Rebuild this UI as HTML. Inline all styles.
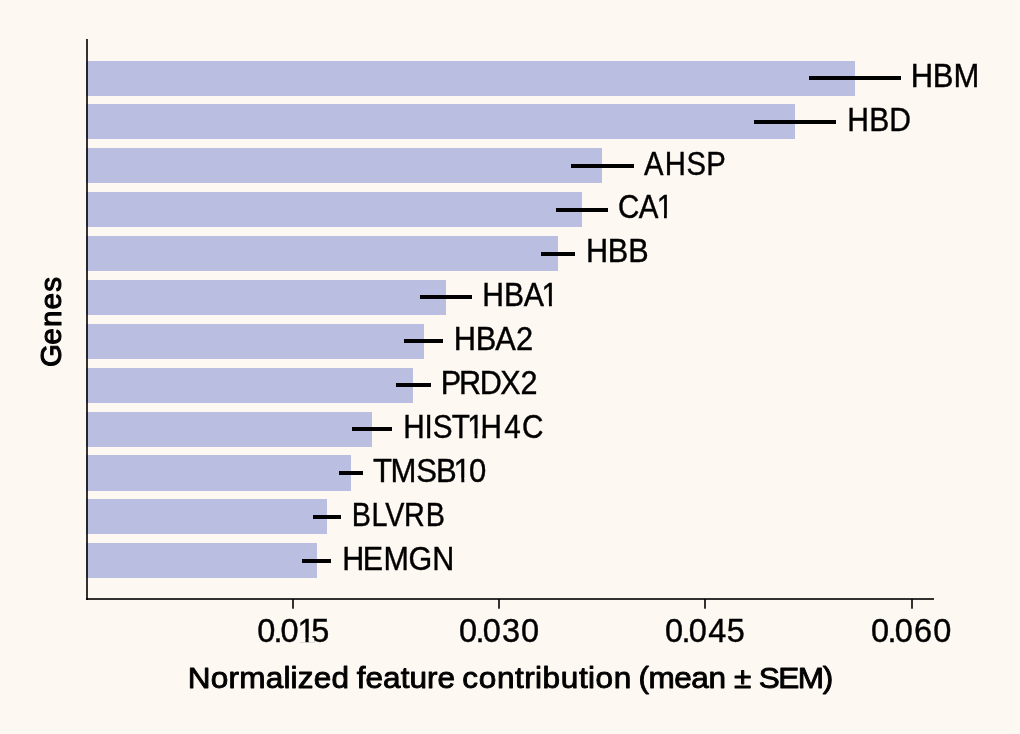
<!DOCTYPE html>
<html><head><meta charset="utf-8"><title>Normalized feature contribution</title>
<style>
html,body{margin:0;padding:0;background:#FDF8F2;}
svg{display:block;will-change:transform;}
text{font-family:"Liberation Sans",Arial,sans-serif;fill:#000;font-kerning:none;}
</style></head><body>
<svg width="1020" height="734" viewBox="0 0 1020 734">
<rect x="0" y="0" width="1020" height="734" fill="#FDF8F2"/>
<rect x="86" y="61" width="769" height="35" fill="#BABEE0"/>
<rect x="809" y="76" width="92" height="4" fill="#000"/>
<rect x="86" y="104" width="709" height="35" fill="#BABEE0"/>
<rect x="754" y="120" width="82" height="4" fill="#000"/>
<rect x="86" y="148" width="516" height="35" fill="#BABEE0"/>
<rect x="571" y="164" width="63" height="4" fill="#000"/>
<rect x="86" y="192" width="496" height="35" fill="#BABEE0"/>
<rect x="556" y="208" width="52" height="4" fill="#000"/>
<rect x="86" y="236" width="472" height="35" fill="#BABEE0"/>
<rect x="541" y="252" width="34" height="4" fill="#000"/>
<rect x="86" y="280" width="360" height="35" fill="#BABEE0"/>
<rect x="420" y="295" width="52" height="4" fill="#000"/>
<rect x="86" y="324" width="338" height="35" fill="#BABEE0"/>
<rect x="404" y="339" width="39" height="4" fill="#000"/>
<rect x="86" y="368" width="327" height="35" fill="#BABEE0"/>
<rect x="396" y="383" width="35" height="4" fill="#000"/>
<rect x="86" y="412" width="286" height="35" fill="#BABEE0"/>
<rect x="352" y="427" width="40" height="4" fill="#000"/>
<rect x="86" y="455" width="265" height="36" fill="#BABEE0"/>
<rect x="339" y="471" width="24" height="4" fill="#000"/>
<rect x="86" y="499" width="241" height="35" fill="#BABEE0"/>
<rect x="313" y="515" width="28" height="4" fill="#000"/>
<rect x="86" y="543" width="231" height="35" fill="#BABEE0"/>
<rect x="302" y="559" width="29" height="4" fill="#000"/>
<rect x="86" y="39" width="2" height="561" fill="rgba(0,0,0,0.8)"/>
<rect x="86" y="598" width="848" height="2" fill="rgba(0,0,0,0.8)"/>
<rect x="292" y="599" width="2" height="9.7" fill="rgba(0,0,0,0.8)"/>
<rect x="498" y="599" width="2" height="9.7" fill="rgba(0,0,0,0.8)"/>
<rect x="704" y="599" width="2" height="9.7" fill="rgba(0,0,0,0.8)"/>
<rect x="911" y="599" width="2" height="9.7" fill="rgba(0,0,0,0.8)"/>
<text transform="matrix(0.9539 0 0 1 0 0)" x="954.76 977.94 999.62" y="86.80" font-size="32.5" stroke="#000" stroke-width="0.4">HBM</text>
<text transform="matrix(0.9250 0 0 1 0 0)" x="915.88 939.72 961.33" y="130.70" font-size="32.5" stroke="#000" stroke-width="0.4">HBD</text>
<text transform="matrix(0.9002 0 0 1 0 0)" x="715.54 738.41 762.65 784.44" y="174.60" font-size="32.5" stroke="#000" stroke-width="0.4">AHSP</text>
<clipPath id="c3"><path clip-rule="evenodd" d="M0 0H1020V734H0ZM658.50 214.67h5.49v4.83h-5.49ZM666.80 214.67h6.05v4.83h-6.05Z"/></clipPath><g clip-path="url(#c3)"><text transform="matrix(0.9085 0 0 1 0 0)" x="680.21 702.99 722.76" y="218.50" font-size="32.5" stroke="#000" stroke-width="0.4">CA1</text></g>
<text transform="matrix(0.9423 0 0 1 0 0)" x="621.95 644.87 666.78" y="262.40" font-size="32.5" stroke="#000" stroke-width="0.4">HBB</text>
<clipPath id="c5"><path clip-rule="evenodd" d="M0 0H1020V734H0ZM543.90 302.47h5.06v4.83h-5.06ZM551.81 302.47h6.13v4.83h-6.13Z"/></clipPath><g clip-path="url(#c5)"><text transform="matrix(0.9250 0 0 1 0 0)" x="521.39 544.90 566.14 585.40" y="306.30" font-size="32.5" stroke="#000" stroke-width="0.4">HBA1</text></g>
<text transform="matrix(0.9474 0 0 1 0 0)" x="479.06 502.07 522.81 544.62" y="350.20" font-size="32.5" stroke="#000" stroke-width="0.4">HBA2</text>
<text transform="matrix(0.9403 0 0 1 0 0)" x="468.85 488.06 510.15 532.05 553.55" y="394.10" font-size="32.5" stroke="#000" stroke-width="0.4">PRDX2</text>
<clipPath id="c8"><path clip-rule="evenodd" d="M0 0H1020V734H0ZM468.29 434.17h6.31v4.83h-6.31ZM477.42 434.17h4.68v4.83h-4.68Z"/></clipPath><g clip-path="url(#c8)"><text transform="matrix(0.9142 0 0 1 0 0)" x="441.21 464.36 473.47 494.12 511.07 525.71 551.49 570.96" y="438.00" font-size="32.5" stroke="#000" stroke-width="0.4">HIST1H4C</text></g>
<clipPath id="c9"><path clip-rule="evenodd" d="M0 0H1020V734H0ZM454.79 478.07h6.55v4.83h-6.55ZM464.29 478.07h6.31v4.83h-6.31Z"/></clipPath><g clip-path="url(#c9)"><text transform="matrix(0.9567 0 0 1 0 0)" x="389.83 408.21 435.01 455.69 474.14 490.27" y="481.90" font-size="32.5" stroke="#000" stroke-width="0.4">TMSB10</text></g>
<text transform="matrix(0.8845 0 0 1 0 0)" x="397.66 419.89 435.50 456.75 481.32" y="525.80" font-size="32.5" stroke="#000" stroke-width="0.4">BLVRB</text>
<text transform="matrix(0.9383 0 0 1 0 0)" x="364.67 386.63 408.60 435.47 460.64" y="569.70" font-size="32.5" stroke="#000" stroke-width="0.4">HEMGN</text>
<clipPath id="t0"><path clip-rule="evenodd" d="M0 0H1020V734H0ZM298.69 637.77h6.80v4.83h-6.80ZM308.56 637.77h5.64v4.83h-5.64Z"/></clipPath><g clip-path="url(#t0)"><text x="257.21 273.39 280.56 297.41 311.34" y="641.60" font-size="32.5" stroke="#000" stroke-width="0.4">0.015</text></g>
<text x="459.06 475.54 482.76 502.01 521.06" y="641.60" font-size="32.5" stroke="#000" stroke-width="0.4">0.030</text>
<text x="665.06 681.54 688.76 708.22 726.69" y="641.60" font-size="32.5" stroke="#000" stroke-width="0.4">0.045</text>
<text x="871.06 887.54 894.76 914.00 933.26" y="641.60" font-size="32.5" stroke="#000" stroke-width="0.4">0.060</text>
<text transform="matrix(1.0445 0 0 1 0 0)" x="179.69 201.75 218.72 229.00 254.44 271.38 278.17 285.02 300.33 317.34 334.13 341.53 349.95 366.79 383.62 392.04 408.87 418.96 435.76 442.51 458.26 475.76 493.08 501.88 512.25 519.46 536.94 554.26 562.96 570.15 587.65 604.44 611.21 620.86 645.50 661.86 678.26 695.06 702.78 719.36 726.48 745.17 763.78 787.76" y="688.40" font-size="30.2" stroke="#000" stroke-width="0.9" stroke-linejoin="round">Normalized feature contribution (mean ± SEM)</text>
<text transform="translate(60.9 400.0) rotate(-90) scale(1.0008 1)" x="33.07 55.30 72.89 90.52 108.19" y="0" font-size="29.6" stroke="#000" stroke-width="1.1" stroke-linejoin="round">Genes</text>
</svg>
</body></html>
